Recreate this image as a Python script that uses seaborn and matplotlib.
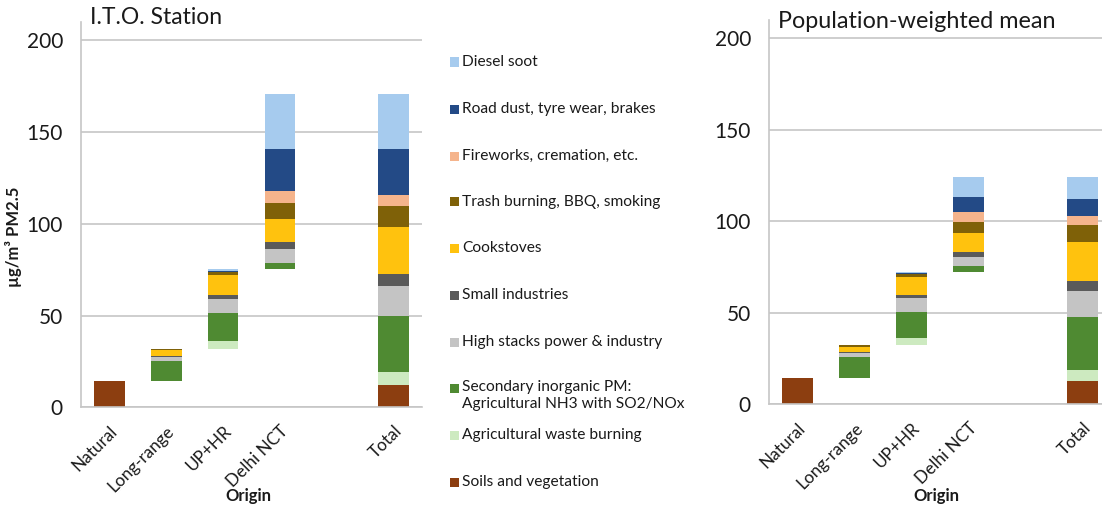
import matplotlib
matplotlib.use("Agg")
import matplotlib.pyplot as plt
import pandas as pd
import seaborn as sns
from matplotlib.patches import Rectangle

# ---------------- data ----------------
categories = ["Natural", "Long-range", "UP+HR", "Delhi NCT", "Total"]
components = [
    "Soils and vegetation",
    "Agricultural waste burning",
    "Secondary inorganic PM:\nAgricultural NH3 with SO2/NOx",
    "High stacks power & industry",
    "Small industries",
    "Cookstoves",
    "Trash burning, BBQ, smoking",
    "Fireworks, cremation, etc.",
    "Road dust, tyre wear, brakes",
    "Diesel soot",
]
colors = ["#8c3e10", "#cdeac0", "#4f8a32", "#c4c4c4", "#5a5a5a",
          "#ffc20e", "#7f6108", "#f5b48c", "#234a86", "#a6cbee"]

# component values (bottom -> top, same order as `components`)
ito_natural = [14.3, 0, 0, 0, 0, 0, 0, 0, 0, 0]
ito_long_range = [0, 0, 11.0, 2.3, 0.4, 3.0, 1.0, 0, 0, 0]
ito_up_hr = [0, 4.4, 15.1, 7.6, 2.2, 10.8, 1.8, 0, 0.4, 1.2]
ito_delhi = [0, 0, 3.2, 7.4, 4.0, 12.8, 8.2, 7.0, 22.8, 29.8]
ito_total = [12.2, 6.8, 30.6, 16.4, 6.4, 25.6, 11.5, 6.4, 25.0, 29.8]

pw_natural = [14.3, 0, 0, 0, 0, 0, 0, 0, 0, 0]
pw_long_range = [0, 0, 11.7, 2.2, 0.3, 2.6, 1.1, 0, 0, 0]
pw_up_hr = [0, 3.9, 14.5, 7.3, 1.8, 9.7, 1.8, 0, 0.3, 0.9]
pw_delhi = [0, 0, 3.2, 4.7, 3.1, 10.0, 6.4, 5.5, 8.2, 10.5]
pw_total = [12.8, 6.0, 29.1, 14.2, 5.5, 21.3, 9.1, 5.1, 8.9, 12.0]

yticks = [0, 50, 100, 150, 200]

# ---------------- style ----------------
sns.set_theme(style="white")
FONT = ["Lato", "DejaVu Sans"]
plt.rcParams["font.family"] = FONT
GRID = "#c6c6c6"
TXT = "#1a1a1a"

W, H = 1102, 505
fig = plt.figure(figsize=(W / 100, H / 100), dpi=100)


def fx(px):
    return px / W


def fy(py):
    return 1 - py / H


slots = categories[:4] + [" "] + categories[4:]


def draw(ax, origins, total, y0_px, ytop_px):
    bases = []
    b = 0.0
    for o in origins:
        bases.append(b)
        b += sum(o)
    columns = origins + [None, total]
    base_list = bases + [0.0, 0.0]
    for ci in range(len(components)):
        heights, bottoms = [], []
        for j, col in enumerate(columns):
            if col is None:
                heights.append(0.0)
                bottoms.append(0.0)
                continue
            heights.append(col[ci])
            bottoms.append(base_list[j] + sum(col[:ci]))
        df = pd.DataFrame({"origin": slots, "value": heights})
        sns.barplot(data=df, x="origin", y="value", order=slots,
                    bottom=bottoms, color=colors[ci], saturation=1,
                    width=0.54, errorbar=None, linewidth=0, ax=ax)
    ax.set_ylim(0, 210)
    ax.set_yticks(yticks)
    ax.set_yticklabels([str(t) for t in yticks], fontsize=15, color=TXT)
    ax.yaxis.grid(True, color=GRID, linewidth=1.2)
    ax.set_axisbelow(True)
    ax.set_xticks(range(len(slots)))
    ax.set_xticklabels(slots, rotation=45, ha="right",
                       rotation_mode="anchor", fontsize=12.3, color=TXT)
    ax.tick_params(axis="both", length=0)
    ax.tick_params(axis="y", pad=13)
    ax.tick_params(axis="x", pad=11)
    for s in ["top", "right"]:
        ax.spines[s].set_visible(False)
    ax.spines["left"].set_color(GRID)
    ax.spines["left"].set_linewidth(1.2)
    ax.spines["bottom"].set_color(GRID)
    ax.spines["bottom"].set_linewidth(1.2)
    ax.set_xlabel("Origin", fontsize=12, fontweight="bold", color=TXT)
    ax.xaxis.label.set_va("center")
    ax.xaxis.set_label_coords(0.49, (y0_px - 496) / (y0_px - ytop_px))
    ax.set_ylabel("")


# left panel
ax1 = fig.add_axes([fx(81), fy(407.3), fx(341), (407.3 - 22) / H])
draw(ax1, [ito_natural, ito_long_range, ito_up_hr, ito_delhi], ito_total,
     407.3, 22)
ax1.set_xlim(-0.5, 5.5)
ax1.set_ylabel("µg/m³ PM2.5", fontsize=12, fontweight="bold", color=TXT)
ax1.yaxis.set_label_coords((22 - 81) / 341, (407.3 - 237) / (407.3 - 22))
fig.text(fx(90), fy(18), "I.T.O. Station", fontsize=16.5, color=TXT,
         ha="left", va="center")

# right panel
ax2 = fig.add_axes([fx(769), fy(404.3), fx(342), (404.3 - 20) / H])
draw(ax2, [pw_natural, pw_long_range, pw_up_hr, pw_delhi], pw_total,
     404.3, 20)
ax2.set_xlim(-0.5, 5.5)
fig.text(fx(778), fy(22), "Population-weighted mean", fontsize=16.8,
         color=TXT, ha="left", va="center")

# legend (manual placement, top -> bottom)
legend_y = [62, 109, 156, 202, 248, 295, 342, 388, 435, 482]
for k, ci in enumerate(range(len(components) - 1, -1, -1)):
    y = legend_y[k]
    fig.add_artist(Rectangle((fx(450), fy(y + 4.5)), fx(8.5), 9 / H,
                             transform=fig.transFigure,
                             facecolor=colors[ci], edgecolor="none"))
    lab = components[ci]
    if "\n" in lab:
        fig.text(fx(462), fy(y - 8.5), lab, fontsize=11.2, color=TXT,
                 ha="left", va="top", linespacing=1.3)
    else:
        fig.text(fx(462), fy(y), lab, fontsize=11.2, color=TXT,
                 ha="left", va="center")

fig.savefig("out.png", dpi=100)
